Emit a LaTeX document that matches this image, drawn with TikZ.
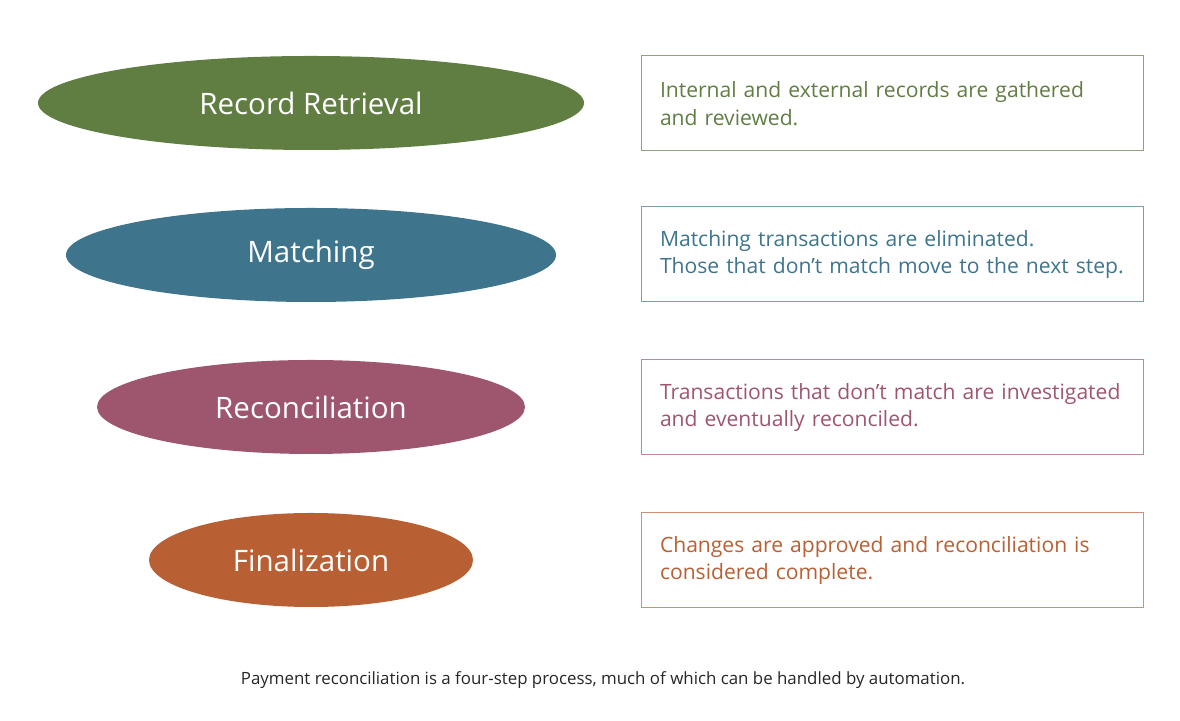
\documentclass[tikz,border=0pt]{standalone}
\usepackage{fontspec}
\setmainfont{Open Sans}
\usetikzlibrary{shapes.geometric}
\definecolor{stepgreen}{RGB}{96,125,66}
\definecolor{stepblue}{RGB}{62,117,140}
\definecolor{stepred}{RGB}{158,86,110}
\definecolor{steporange}{RGB}{184,96,52}
\tikzset{
  stepellipse/.style={ellipse,inner sep=0pt,minimum height=2.35cm,text=white,font=\fontsize{21}{25}\selectfont},
  stepbox/.style={draw=#1!70,text=#1,line width=0.25mm,minimum width=12.55cm,minimum height=2.375cm,
    text width=11.6cm,align=left,inner xsep=0.475cm,font=\fontsize{15}{19.5}\selectfont},
}
\begin{document}
\begin{tikzpicture}
  \useasboundingbox (0,0) rectangle (29.5,18.025);
  %ELLIPSES
  \node[stepellipse,fill=stepgreen,minimum width=13.65cm] (e1) at (7.775,15.45) {Record Retrieval};
  \node[stepellipse,fill=stepblue,minimum width=12.25cm] (e2) at (7.775,11.65) {Matching};
  \node[stepellipse,fill=stepred,minimum width=10.7cm] (e3) at (7.775,7.85) {Reconciliation};
  \node[stepellipse,fill=steporange,minimum width=8.1cm] (e4) at (7.775,4.025) {Finalization};
  %BOXES
  \node[stepbox=stepgreen] (b1) at (22.3,15.4375) {Internal and external records are gathered\\and reviewed.};
  \node[stepbox=stepblue] (b2) at (22.3,11.6625) {Matching transactions are eliminated.\\Those that don’t match move to the next step.};
  \node[stepbox=stepred] (b3) at (22.3,7.8375) {Transactions that don’t match are investigated\\and eventually reconciled.};
  \node[stepbox=steporange] (b4) at (22.3,4.0125) {Changes are approved and reconciliation is\\considered complete.};
  %CAPTION
  \node[font=\fontsize{12}{14}\selectfont,text=black!85] (cap) at (15.075,1.025) {Payment reconciliation is a four-step process, much of which can be handled by automation.};
\end{tikzpicture}
\end{document}
